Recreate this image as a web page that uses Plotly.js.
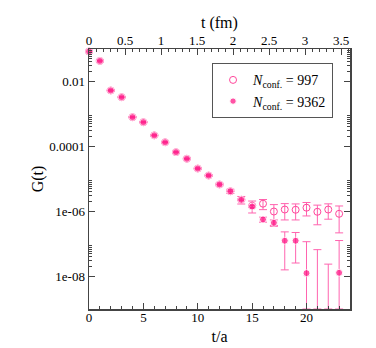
<!DOCTYPE html>
<html>
<head>
<meta charset="utf-8">
<script src="https://cdn.plot.ly/plotly-3.0.1.min.js"></script>
<style>
  html, body { margin: 0; padding: 0; background: #fff; }
  #chart { width: 376px; height: 348px; }
</style>
</head>
<body>
<div id="chart"></div>
<script>
// t/a values (lattice time slices)
const tA = [0, 1, 2, 3, 4, 5, 6, 7, 8, 9, 10, 11, 12, 13, 14, 15, 16, 17, 18, 19, 20, 21, 22, 23];

// G(t), N_conf = 9362 (filled)
const g9362 = [0.084, 0.043, 0.0053, 0.0033, 8.0e-4, 5.6e-4, 2.2e-4, 1.35e-4, 6.7e-5, 4.2e-5,
  2.1e-5, 1.28e-5, 6.8e-6, 4.2e-6, 2.3e-6, 1.43e-6, 5.7e-7, 4.5e-7, 1.26e-7, 1.26e-7,
  1.27e-8, -3.8e-8, -8.1e-8, 1.3e-8];
const e9362 = [0.002, 0.001, 1.0e-4, 6.0e-5, 1.5e-5, 1.0e-5, 4.0e-6, 2.5e-6, 1.2e-6, 8.0e-7,
  4.0e-7, 2.5e-7, 1.5e-7, 1.2e-7, 1.1e-7, 1.1e-7, 1.0e-7, 1.0e-7, 1.1e-7, 1.0e-7,
  1.05e-7, 1.05e-7, 1.05e-7, 1.15e-7];

// G(t), N_conf = 997 (open)
const g997 = [0.084, 0.043, 0.0053, 0.0033, 8.0e-4, 5.6e-4, 2.2e-4, 1.35e-4, 6.7e-5, 4.2e-5,
  2.1e-5, 1.28e-5, 6.8e-6, 4.2e-6, 2.3e-6, 1.5e-6, 1.74e-6, 1.0e-6, 1.15e-6, 1.13e-6,
  1.31e-6, 9.8e-7, 1.15e-6, 8.5e-7];
const e997 = [0.006, 0.003, 3.0e-4, 1.8e-4, 4.5e-5, 3.0e-5, 1.2e-5, 7.5e-6, 3.6e-6, 2.4e-6,
  1.2e-6, 8.0e-7, 6.5e-7, 6.2e-7, 6.0e-7, 6.0e-7, 6.0e-7, 6.3e-7, 6.0e-7, 5.8e-7,
  5.8e-7, 5.9e-7, 5.7e-7, 6.3e-7];

const aFm = 0.151;  // lattice spacing in fm, for top axis
const yTickVals = [1e-8, 1e-6, 1e-4, 1e-2];
const yTickText = ['1e-08', '1e-06', '0.0001', '0.01'];
const yRange = [-9, -1];

// minor ticks: 2..9 times each labelled decade
const yMinor = [];
yTickVals.forEach(v => { for (let k = 2; k <= 9; k++) yMinor.push(k * v); });

// bars that run below the axis floor are cut at the floor; negative central
// values get no marker (they cannot sit on a log axis)
const floorY = Math.pow(10, yRange[0]);
const yPlot = g9362.map(v => v > 0 ? v : floorY);
const errPlus = g9362.map((v, i) => v + e9362[i] - yPlot[i]);
const errMinus = g9362.map((v, i) => yPlot[i] - Math.max(v - e9362[i], floorY));
const markSize = g9362.map(v => v > 0 ? 7 : 0);

const pink = 'rgb(255,10,128)';
const barPink = 'rgb(255,100,175)';
const serif = '"Liberation Serif", "Times New Roman", serif';

const traces = [{
  x: tA, y: g997,
  type: 'scatter', mode: 'markers', cliponaxis: false,
  name: '<i>N</i><sub>conf.</sub> = 997',
  marker: {symbol: 'circle-open', size: 7, color: 'rgb(255,70,155)', line: {width: 1}},
  error_y: {type: 'data', array: e997, color: barPink, thickness: 1, width: 4}
}, {
  x: tA, y: yPlot,
  type: 'scatter', mode: 'markers', cliponaxis: false,
  name: '<i>N</i><sub>conf.</sub> = 9362',
  marker: {symbol: 'circle', size: markSize, color: pink},
  error_y: {type: 'data', symmetric: false, array: errPlus, arrayminus: errMinus,
            color: barPink, thickness: 1, width: 4}
}, {
  // keeps the top axis attached
  x: [], y: [], xaxis: 'x2', yaxis: 'y',
  type: 'scatter', mode: 'markers', showlegend: false, hoverinfo: 'skip'
}];

const axisCommon = {
  showgrid: false, zeroline: false,
  showline: true, linecolor: '#444', linewidth: 1.5,
  ticks: 'inside', ticklen: 6, tickcolor: '#444', tickwidth: 1,
  tickfont: {family: serif, size: 13, color: '#000'},
  layer: 'above traces'
};

const layout = {
  width: 376, height: 348,
  margin: {l: 89, r: 26, t: 49, b: 39},
  paper_bgcolor: '#fff', plot_bgcolor: '#fff',
  font: {family: serif, color: '#000'},
  showlegend: true,
  legend: {
    x: 0.935, y: 0.945, xanchor: 'right', yanchor: 'top',
    bgcolor: '#fff', bordercolor: '#555', borderwidth: 1,
    font: {family: serif, size: 14, color: '#000'},
    itemwidth: 30, tracegroupgap: 0
  },
  xaxis: Object.assign({}, axisCommon, {
    range: [0, 24], tick0: 0, dtick: 5,
    ticklabelstandoff: -4,
    minor: {dtick: 1, ticks: 'inside', ticklen: 3, tickcolor: '#444'},
    title: {text: 't/a', font: {family: serif, size: 16}, standoff: 6}
  }),
  xaxis2: Object.assign({}, axisCommon, {
    overlaying: 'x', side: 'top', anchor: 'y',
    range: [0, 24 * aFm], tick0: 0, dtick: 0.5,
    ticklabelstandoff: -3,
    minor: {dtick: 0.1, ticks: 'inside', ticklen: 3, tickcolor: '#444'}
  }),
  yaxis: Object.assign({}, axisCommon, {
    type: 'log', range: yRange,
    tickmode: 'array', tickvals: yTickVals, ticktext: yTickText,
    mirror: 'ticks',
    minor: {tickmode: 'array', tickvals: yMinor, ticks: 'inside', ticklen: 3, tickcolor: '#444'},
    title: {text: 'G(t)', font: {family: serif, size: 16}, standoff: 1}
  }),
  annotations: [{
    // top axis title
    text: 't (fm)', xref: 'paper', yref: 'paper', x: 0.5, y: 1,
    xanchor: 'center', yanchor: 'middle', yshift: 26, showarrow: false,
    font: {family: serif, size: 16, color: '#000'}
  }]
};

Plotly.newPlot('chart', traces, layout, {displayModeBar: false, staticPlot: true});
</script>
</body>
</html>
